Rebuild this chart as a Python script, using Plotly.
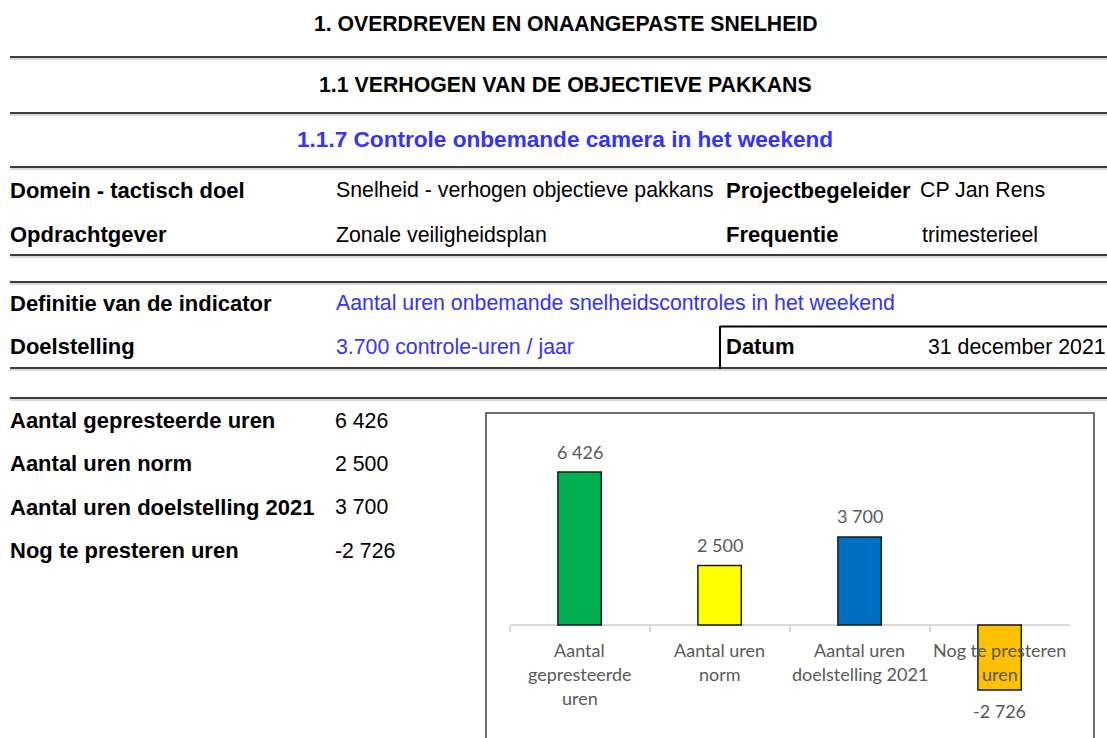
import plotly.graph_objects as go

W, H = 1107, 738

# ---------------- data ----------------
categories = ["Aantal gepresteerde uren", "Aantal uren norm",
              "Aantal uren doelstelling 2021", "Nog te presteren uren"]
category_lines = [["Aantal", "gepresteerde", "uren"],
                  ["Aantal uren", "norm"],
                  ["Aantal uren", "doelstelling 2021"],
                  ["Nog te presteren", "uren"]]
values = [6426, 2500, 3700, -2726]
bar_colors = ["#00B050", "#FFFF00", "#0070C0", "#FFC000"]

title_main = "1. OVERDREVEN EN ONAANGEPASTE SNELHEID"
title_sub = "1.1 VERHOGEN VAN DE OBJECTIEVE PAKKANS"
title_indicator = "1.1.7 Controle onbemande camera in het weekend"

info_labels = ["Domein - tactisch doel", "Opdrachtgever"]
info_values = ["Snelheid - verhogen objectieve pakkans", "Zonale veiligheidsplan"]
info_right_labels = ["Projectbegeleider", "Frequentie"]
info_right_values = ["CP Jan Rens", "trimesterieel"]

def_labels = ["Definitie van de indicator", "Doelstelling"]
def_values = ["Aantal uren onbemande snelheidscontroles in het weekend",
              "3.700 controle-uren / jaar"]
date_label = "Datum"
date_value = "31 december 2021"


def fmt(v):
    return f"{v:,}".replace(",", " ")


def px(x):
    return x / W


def py(y):
    return 1 - y / H


PAGE_FONT = "Liberation Sans, Arial, sans-serif"
CHART_FONT = "Lato, Calibri, sans-serif"
BLUE = "#3333ff"
FS = 21.3
FSB = 22

annotations = []


def txt(x, y, text, bold=False, color="#000000", anchor="left", size=None, font=PAGE_FONT):
    if size is None:
        size = FSB if bold else FS
    annotations.append(dict(
        x=px(x), y=py(y), xref="paper", yref="paper", text=f"<b>{text}</b>" if bold else text,
        showarrow=False, xanchor=anchor, yanchor="middle",
        font=dict(family=font, size=size, color=color)))


# headers
txt(565, 23, title_main, bold=True, anchor="center", size=21.2)
txt(565, 85, title_sub, bold=True, anchor="center", size=21.3)
txt(565, 139.5, title_indicator, bold=True, color=BLUE, anchor="center", size=22.6)

# info rows
for i, (lab, val, rl, rv) in enumerate(zip(info_labels, info_values, info_right_labels, info_right_values)):
    yy = 190.5 + 44 * i
    txt(8, yy, lab, bold=True)
    txt(334, yy, val)
    txt(724, yy, rl, bold=True)
    txt(918 if i == 0 else 920, yy, rv)

for i, (lab, val) in enumerate(zip(def_labels, def_values)):
    yy = 303 + 44 * i
    txt(8, yy, lab, bold=True)
    txt(334, yy, val, color=BLUE)
txt(724, 347, date_label, bold=True)
txt(1108, 347, date_value, anchor="right")

# lower table
for i, (lab, v) in enumerate(zip(categories, values)):
    yy = 420.5 + 43.4 * i
    txt(8, yy, lab, bold=True)
    txt(333, yy, fmt(v))

# chart value labels
for c, v in zip(categories, values):
    annotations.append(dict(
        x=c, y=v, xref="x", yref="y", text=fmt(v), showarrow=False,
        xanchor="center", yanchor="middle", yshift=20.5 if v >= 0 else -21.5,
        font=dict(family=CHART_FONT, size=18, color="#595959")))

# chart category labels (multi-line with wide spacing)
for c, lines in zip(categories, category_lines):
    for j, line in enumerate(lines):
        annotations.append(dict(
            x=c, y=py(650 + 24.2 * j), xref="x", yref="paper", text=line, showarrow=False,
            xanchor="center", yanchor="middle",
            font=dict(family=CHART_FONT, size=18, color="#595959")))

shapes = []
for yy in [57, 113, 167, 255, 282, 368, 398]:
    shapes.append(dict(type="line", xref="paper", yref="paper",
                       x0=px(10), x1=1, y0=py(yy), y1=py(yy),
                       line=dict(color="#3c3c3c", width=2)))
    shapes.append(dict(type="line", xref="paper", yref="paper",
                       x0=px(10), x1=1, y0=py(yy + 2), y1=py(yy + 2),
                       line=dict(color="#b4b4b4", width=1)))

# Datum box
shapes.append(dict(type="line", xref="paper", yref="paper",
                   x0=px(720), x1=1, y0=py(326.5), y1=py(326.5),
                   line=dict(color="#000000", width=2)))
shapes.append(dict(type="line", xref="paper", yref="paper",
                   x0=px(720), x1=px(720), y0=py(326), y1=py(369),
                   line=dict(color="#000000", width=2)))

# chart border
shapes.append(dict(type="rect", xref="paper", yref="paper",
                   x0=px(486), x1=px(1094), y0=py(413), y1=py(760),
                   line=dict(color="#3f3f3f", width=1.5), fillcolor="rgba(0,0,0,0)"))

fig = go.Figure(go.Bar(
    x=categories, y=values, width=0.31,
    marker=dict(color=bar_colors, line=dict(color="#1a1a1a", width=1.5)),
    cliponaxis=False, hoverinfo="skip"))

fig.update_layout(
    width=W, height=H, margin=dict(l=0, r=0, t=0, b=0),
    paper_bgcolor="white", plot_bgcolor="rgba(0,0,0,0)",
    showlegend=False,
    xaxis=dict(type="category", range=[-0.5, 3.5],
               domain=[px(509.6), px(1069.6)], anchor="free", position=py(625),
               showline=True, linecolor="#d9d9d9", linewidth=1.5,
               ticks="outside", tickson="boundaries", ticklen=6, tickcolor="#d9d9d9", tickwidth=1.5,
               showticklabels=False, showgrid=False, zeroline=False, layer="below traces",
               fixedrange=True),
    yaxis=dict(range=[-4748, 8613], domain=[0, py(420)], visible=False, fixedrange=True),
    annotations=annotations, shapes=shapes,
)

fig.write_html("out.html", config={"displayModeBar": False},
               post_script="document.body.style.margin='0';document.body.style.overflow='hidden';")
